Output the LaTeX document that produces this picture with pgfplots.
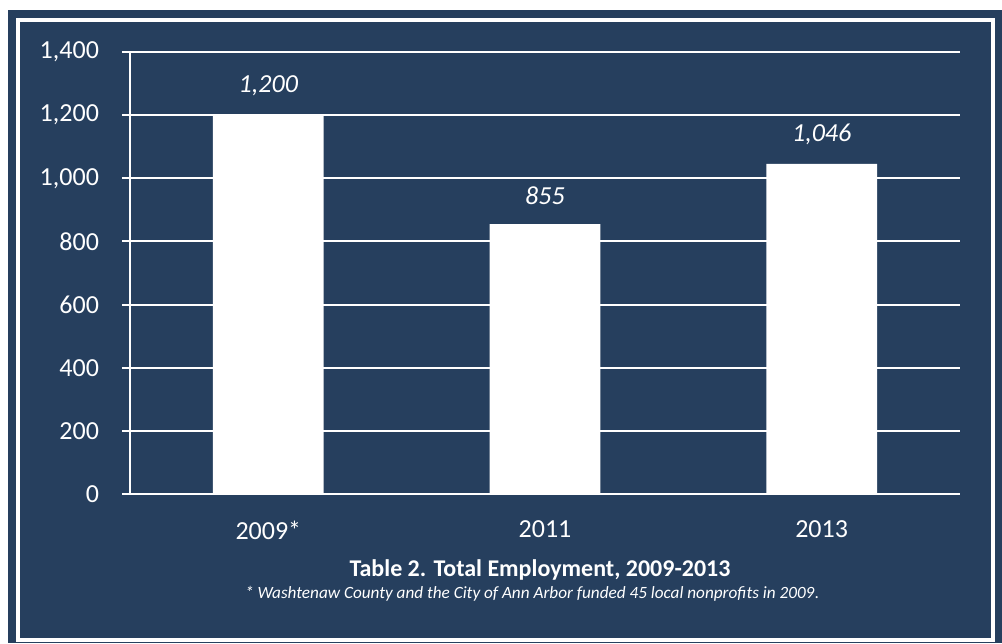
\documentclass[border=0pt]{standalone}
\usepackage{fontspec}
\setmainfont{Carlito}
\usepackage{pgfplots}
\pgfplotsset{compat=1.18}
\definecolor{navy}{RGB}{38,63,94}

\begin{document}
\begin{tikzpicture}
% 1 px of the reference = 0.5pt, axis origin at pixel (130,494)
\fill[white] (-65pt,-74.5pt) rectangle (436pt,247pt);
\fill[navy] (-61pt,-74.5pt) rectangle (436pt,242pt);
\draw[white, line width=2pt] (-55.75pt,-73pt) rectangle (431.5pt,236.75pt);
\begin{axis}[
    width=415pt, height=221pt, scale only axis,
    xmin=-0.5, xmax=2.5,
    ymin=0, ymax=1400,
    ytick={0,200,...,1400},
    xtick={0,1,2},
    xticklabels={2009*, 2011, 2013},
    minor xtick={-0.5,0.5,1.5,2.5},
    axis x line*=bottom, axis y line*=left,
    axis line style={white, line width=1pt, -},
    tick align=outside,
    major tick length=4pt,
    minor tick length=4pt,
    xtick style={draw=none},
    minor x tick style={white, line width=1pt},
    ytick style={white, line width=1pt},
    ymajorgrids, grid style={white, line width=1pt},
    tick label style={font=\fontsize{13}{15}\selectfont, text=white},
    yticklabel style={xshift=-8pt},
    xticklabel style={yshift=-6pt},
    /pgf/number format/assume math mode=true,
    /pgf/number format/1000 sep={,},
    scaled y ticks=false,
    ybar, bar width=0.4,
    nodes near coords,
    nodes near coords style={font=\fontsize{13}{15}\selectfont\itshape, text=white, anchor=south, yshift=6pt},
]
\addplot[fill=white, draw=none] coordinates {(0,1200) (1,855) (2,1046)};
\end{axis}
\node[text=white, font=\fontsize{12}{14}\selectfont\bfseries] at (205pt,-38pt) {Table 2. Total Employment, 2009-2013};
\node[text=white, font=\fontsize{8.6}{10}\selectfont] at (201pt,-50pt) {\itshape * Washtenaw County and the City of Ann Arbor funded 45 local nonprofits in 2009\upshape.};
\pgfresetboundingbox
\useasboundingbox (-65pt,-74.5pt) rectangle (436pt,247pt);
\end{tikzpicture}
\end{document}
